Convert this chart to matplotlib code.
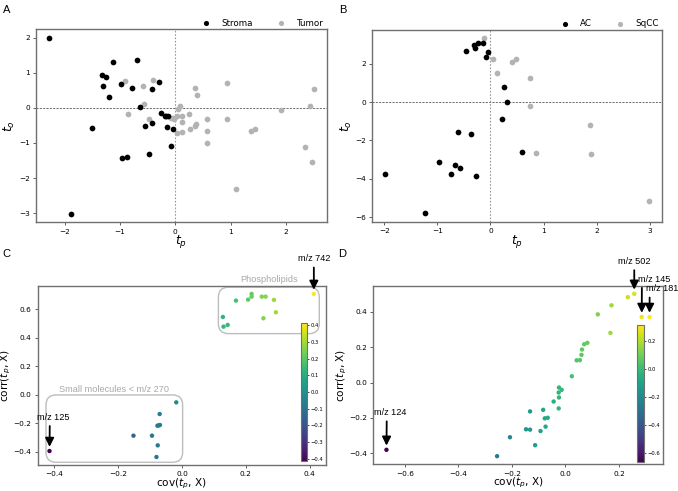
import numpy as np
import matplotlib
matplotlib.use('Agg')
import matplotlib.pyplot as plt
from matplotlib.patches import FancyBboxPatch

# ---- panel A: scores, stroma vs tumor
stroma_tp = [-2.28, -1.89, -1.51, -1.33, -1.25, -1.31, -1.12, -1.20, -0.98, -0.70,
             -0.78, -0.63, -0.54, -0.42, -0.30, -0.42, -0.97, -0.87, -0.47, -0.25,
             -0.19, -0.16, -0.13, -0.15, -0.05, -0.07]
stroma_to = [1.99, -3.01, -0.57, 0.95, 0.89, 0.63, 1.30, 0.30, 0.68, 1.36,
             0.56, 0.02, -0.51, 0.55, 0.75, -0.42, -1.44, -1.39, -1.31, -0.16,
             -0.22, -0.22, -0.24, -0.54, -0.59, -1.09]
tumor_tp = [-0.91, -0.85, -0.58, -0.56, -0.41, -0.48, -0.08, -0.04, 0.05, 0.08,
            0.04, 0.13, 0.24, 0.13, 0.04, 0.12, 0.26, 0.35, 0.37, 0.35,
            0.39, 0.57, 0.57, 0.58, 0.93, 0.94, 1.09, 1.37, 1.44, 1.92,
            2.34, 2.44, 2.50, 2.48, -0.02]
tumor_to = [0.77, -0.17, 0.61, 0.10, 0.79, -0.31, -0.28, -0.30, -0.03, 0.06,
            -0.24, -0.24, -0.17, -0.41, -0.73, -0.69, -0.61, -0.51, -0.45, 0.58,
            0.37, -0.31, -0.66, -1.00, 0.71, -0.31, -2.31, -0.67, -0.60, -0.07,
            -1.11, 0.05, 0.55, -1.53, -0.31]

# ---- panel B: scores, AC vs SqCC
ac_tp = [-1.98, -1.23, -0.98, -0.67, -0.74, -0.57, -0.27, -0.62, -0.36, -0.47,
         -0.31, -0.30, -0.23, -0.14, -0.05, -0.09, 0.25, 0.31, 0.22, 0.60]
ac_to = [-3.73, -5.80, -3.11, -3.30, -3.73, -3.45, -3.85, -1.55, -1.65, 2.66,
         2.99, 2.81, 3.06, 3.07, 2.60, 2.34, 0.80, 0.00, -0.87, -2.60]
sq_tp = [-0.13, 0.05, 0.13, 0.41, 0.49, 0.74, 0.74, 0.85, 1.87, 1.90, 2.99]
sq_to = [3.32, 2.26, 1.49, 2.08, 2.24, 1.28, -0.23, -2.67, -1.20, -2.71, -5.16]

# ---- panel C: S-plot stroma/tumor
c_cov = [-0.415, -0.018, -0.070, -0.077, -0.073, -0.069, -0.094, -0.152, -0.076, -0.080,
         0.128, 0.130, 0.143, 0.169, 0.207, 0.218, 0.218, 0.250, 0.262, 0.255,
         0.288, 0.294, 0.413]
c_corr = [-0.396, -0.054, -0.136, -0.218, -0.216, -0.213, -0.288, -0.288, -0.356, -0.438,
          0.546, 0.478, 0.490, 0.661, 0.668, 0.708, 0.689, 0.689, 0.689, 0.537,
          0.666, 0.579, 0.708]

# ---- panel D: S-plot AC/SqCC
d_cov = [-0.668, -0.255, -0.207, -0.147, -0.132, -0.132, -0.113, -0.093, -0.083, -0.077,
         -0.066, -0.074, -0.044, -0.025, -0.024, -0.025, -0.024, -0.014, 0.024, 0.042,
         0.054, 0.060, 0.062, 0.070, 0.082, 0.121, 0.168, 0.172, 0.233, 0.257,
         0.285, 0.314]
d_corr = [-0.380, -0.416, -0.309, -0.264, -0.266, -0.163, -0.354, -0.274, -0.154, -0.202,
          -0.199, -0.249, -0.107, -0.146, -0.028, -0.056, -0.084, -0.041, 0.036, 0.126,
          0.127, 0.157, 0.187, 0.217, 0.225, 0.386, 0.281, 0.437, 0.483, 0.502,
          0.371, 0.371]

GREY = '#b3b3b3'
SPINE = '#707070'
TXTFONT = ['Liberation Sans', 'DejaVu Sans']

fig = plt.figure(figsize=(6.78, 4.91), dpi=100)

axA = fig.add_axes([0.0531, 0.5473, 0.4288, 0.3931])
axB = fig.add_axes([0.5491, 0.5479, 0.4277, 0.3917])
axC = fig.add_axes([0.0556, 0.0530, 0.4252, 0.3652])
axD = fig.add_axes([0.5506, 0.0544, 0.4268, 0.3637])


def style(ax):
    for s in ax.spines.values():
        s.set_color(SPINE)
        s.set_linewidth(1.0)
    ax.tick_params(labelsize=5.3, length=2.5, width=0.6, pad=2, color='#444444')


def scores(ax, x1, y1, x2, y2, lab1, lab2):
    ax.axhline(0, color='#555555', ls='--', lw=0.6, dashes=(2.5, 1.5), zorder=0)
    ax.axvline(0, color='#999999', ls='--', lw=0.8, dashes=(1.5, 1.5), zorder=0)
    ax.scatter(x2, y2, s=17, color=GREY, label=lab2, zorder=2, linewidths=0)
    ax.scatter(x1, y1, s=17, color='k', label=lab1, zorder=3, linewidths=0)
    h, l = ax.get_legend_handles_labels()
    ax.legend(h[::-1], l[::-1], loc='lower right', bbox_to_anchor=(1.0, 0.99), ncol=2,
              frameon=False, fontsize=6.3, borderaxespad=0, handletextpad=0.6,
              columnspacing=2.2, markerscale=0.9, handlelength=2.2)
    ax.set_xlabel('$t_p$', fontsize=9, labelpad=-1)
    ax.set_ylabel('$t_o$', fontsize=9, labelpad=1)
    style(ax)


scores(axA, stroma_tp, stroma_to, tumor_tp, tumor_to, 'Stroma', 'Tumor')
scores(axB, ac_tp, ac_to, sq_tp, sq_to, 'AC', 'SqCC')
axA.set_yticks([-3, -2, -1, 0, 1, 2])
axB.set_yticks([-6, -4, -2, 0, 2])
axB.set_xticks([-2, -1, 0, 1, 2, 3])


def splot(ax, x, y, cax_rect, cticks):
    x = np.array(x)
    sc = ax.scatter(x, y, c=x, cmap='viridis', s=10, linewidths=0, zorder=3)
    ax.set_xlabel('cov($t_p$, X)', fontsize=7.6, labelpad=-0.5)
    ax.set_ylabel('corr($t_p$, X)', fontsize=7.6, labelpad=0)
    style(ax)
    cax = fig.add_axes(cax_rect)
    cb = fig.colorbar(sc, cax=cax, ticks=cticks)
    cb.outline.set_edgecolor(SPINE)
    cb.outline.set_linewidth(0.8)
    cax.tick_params(labelsize=3.8, length=1.5, width=0.5, pad=1)
    return sc


def arrow(ax, txt, xy, off, ha='center', relpos=(0.5, 0.0)):
    ax.annotate(txt, xy=xy, xytext=off, textcoords='offset points', ha=ha, va='bottom',
                fontsize=6.6, family=TXTFONT, annotation_clip=False,
                arrowprops=dict(arrowstyle='-|>', color='k', lw=1.3, mutation_scale=13,
                                shrinkA=1, shrinkB=3, relpos=relpos))


def rbox(ax, x0, x1, y0, y1):
    ax.figure.canvas.draw()
    p0 = ax.transData.transform((0, 0))
    p1 = ax.transData.transform((1, 1))
    aspect = (p1[0] - p0[0]) / (p1[1] - p0[1])
    r = 10.0 / (p1[0] - p0[0])
    box = FancyBboxPatch((x0, y0), x1 - x0, y1 - y0,
                         boxstyle='round,pad=0,rounding_size=%f' % r,
                         mutation_aspect=aspect, fc='none', ec='#bdbdbd', lw=1.0,
                         zorder=1, clip_on=False)
    ax.add_patch(box)


splot(axC, c_cov, c_corr, [0.4435, 0.0611, 0.0093, 0.2804],
      [-0.4, -0.3, -0.2, -0.1, 0.0, 0.1, 0.2, 0.3, 0.4])
axC.set_xticks([-0.4, -0.2, 0.0, 0.2, 0.4])
axC.set_yticks([-0.4, -0.2, 0.0, 0.2, 0.4, 0.6])
axC.set_xlim(-0.452, 0.451)
axC.set_ylim(-0.494, 0.766)
rbox(axC, -0.426, 0.002, -0.475, -0.002)
rbox(axC, 0.114, 0.430, 0.429, 0.755)
axC.text(-0.212, 0.008, 'Small molecules < m/z 270', color='#a8a8a8', fontsize=6.6,
         family=TXTFONT, ha='center', va='bottom')
axC.text(0.273, 0.778, 'Phospholipids', color='#a8a8a8', fontsize=6.6,
         family=TXTFONT, ha='center', va='bottom')
arrow(axC, 'm/z 742', (c_cov[-1], c_corr[-1]), (0, 22))
arrow(axC, 'm/z 125', (c_cov[0], c_corr[0]), (3, 21), relpos=(0.38, 0.0))

splot(axD, d_cov, d_corr, [0.9400, 0.0591, 0.0103, 0.2784],
      [-0.6, -0.4, -0.2, 0.0, 0.2])
axD.set_xticks([-0.6, -0.4, -0.2, 0.0, 0.2])
axD.set_yticks([-0.4, -0.2, 0.0, 0.2, 0.4])
arrow(axD, 'm/z 502', (d_cov[29], d_corr[29]), (0, 20))
arrow(axD, 'm/z 145', (d_cov[30], d_corr[30]), (-2.7, 24), ha='left', relpos=(0.12, 0.0))
arrow(axD, 'm/z 181', (d_cov[31], d_corr[31]), (-2.7, 17), ha='left', relpos=(0.12, 0.0))
arrow(axD, 'm/z 124', (d_cov[0], d_corr[0]), (3, 23.5), relpos=(0.38, 0.0))

for lab, x, y in [('A', 0.004, 0.99), ('B', 0.5, 0.99), ('C', 0.003, 0.493), ('D', 0.499, 0.493)]:
    fig.text(x, y, lab, fontsize=8, family=TXTFONT, ha='left', va='top')

fig.savefig('out.png', dpi=100)
